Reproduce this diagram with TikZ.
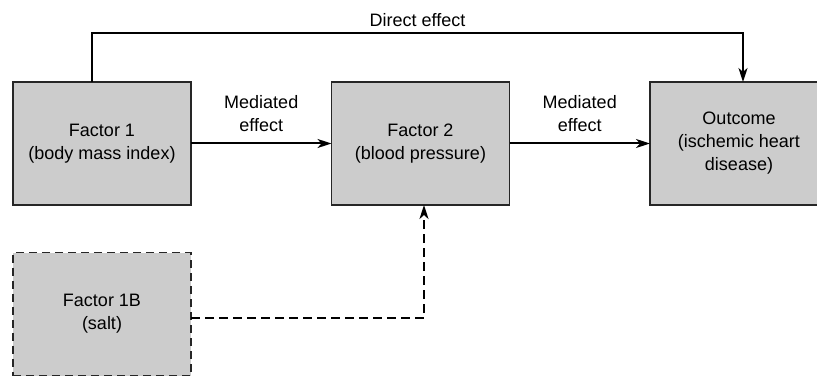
\documentclass[tikz,border=0pt]{standalone}
\usepackage{fontspec}
\setmainfont{Liberation Sans}
\usepackage{xcolor}
\usetikzlibrary{arrows.meta}
\definecolor{BoxGray}{gray}{0.8}
\tikzset{factor/.style={draw=black!85, line width=1.2pt, fill=BoxGray, minimum width=178pt, minimum height=123pt, inner sep=0pt, outer sep=0pt, align=center, font=\fontsize{18}{23}\selectfont},
        hidden/.style={factor, dash pattern=on 8pt off 5pt},
        effect/.style={line width=2pt, -{Stealth[length=14pt,width=9pt,inset=4pt]}}}

\begin{document}
\begin{tikzpicture}[x=1pt,y=-1pt]
                \useasboundingbox (0,0) rectangle (817,377);

                \node[factor] (f1) at (102,143.5) {Factor 1\\(body mass index)};
                \node[factor] (f2) at (420.5,143.5) {Factor 2\\(blood pressure)};
                \node[factor] (out) at (739,143.5) {Outcome\\(ischemic heart\\disease)};
                \node[hidden] (f1b) at (102,314) {Factor 1B\\(salt)};

                \draw[effect] (f1) -- (f2) node[midway,above=7pt,align=center,font=\fontsize{18}{23}\selectfont] (m1) {Mediated\\effect};
                \draw[effect] (f2) -- (out) node[midway,above=7pt,align=center,font=\fontsize{18}{23}\selectfont] (m2) {Mediated\\effect};
                \draw[effect] ([xshift=-10pt]f1.north) -- ++(0,-49) -| ([xshift=4pt]out.north) node[pos=0.25,above=2pt,font=\fontsize{18}{23}\selectfont] (de) {Direct effect};
                \draw[effect,dash pattern=on 9pt off 5pt] ([yshift=-4pt]f1b.east) -| ([xshift=3.5pt]f2.south);
        \end{tikzpicture}
\end{document}
